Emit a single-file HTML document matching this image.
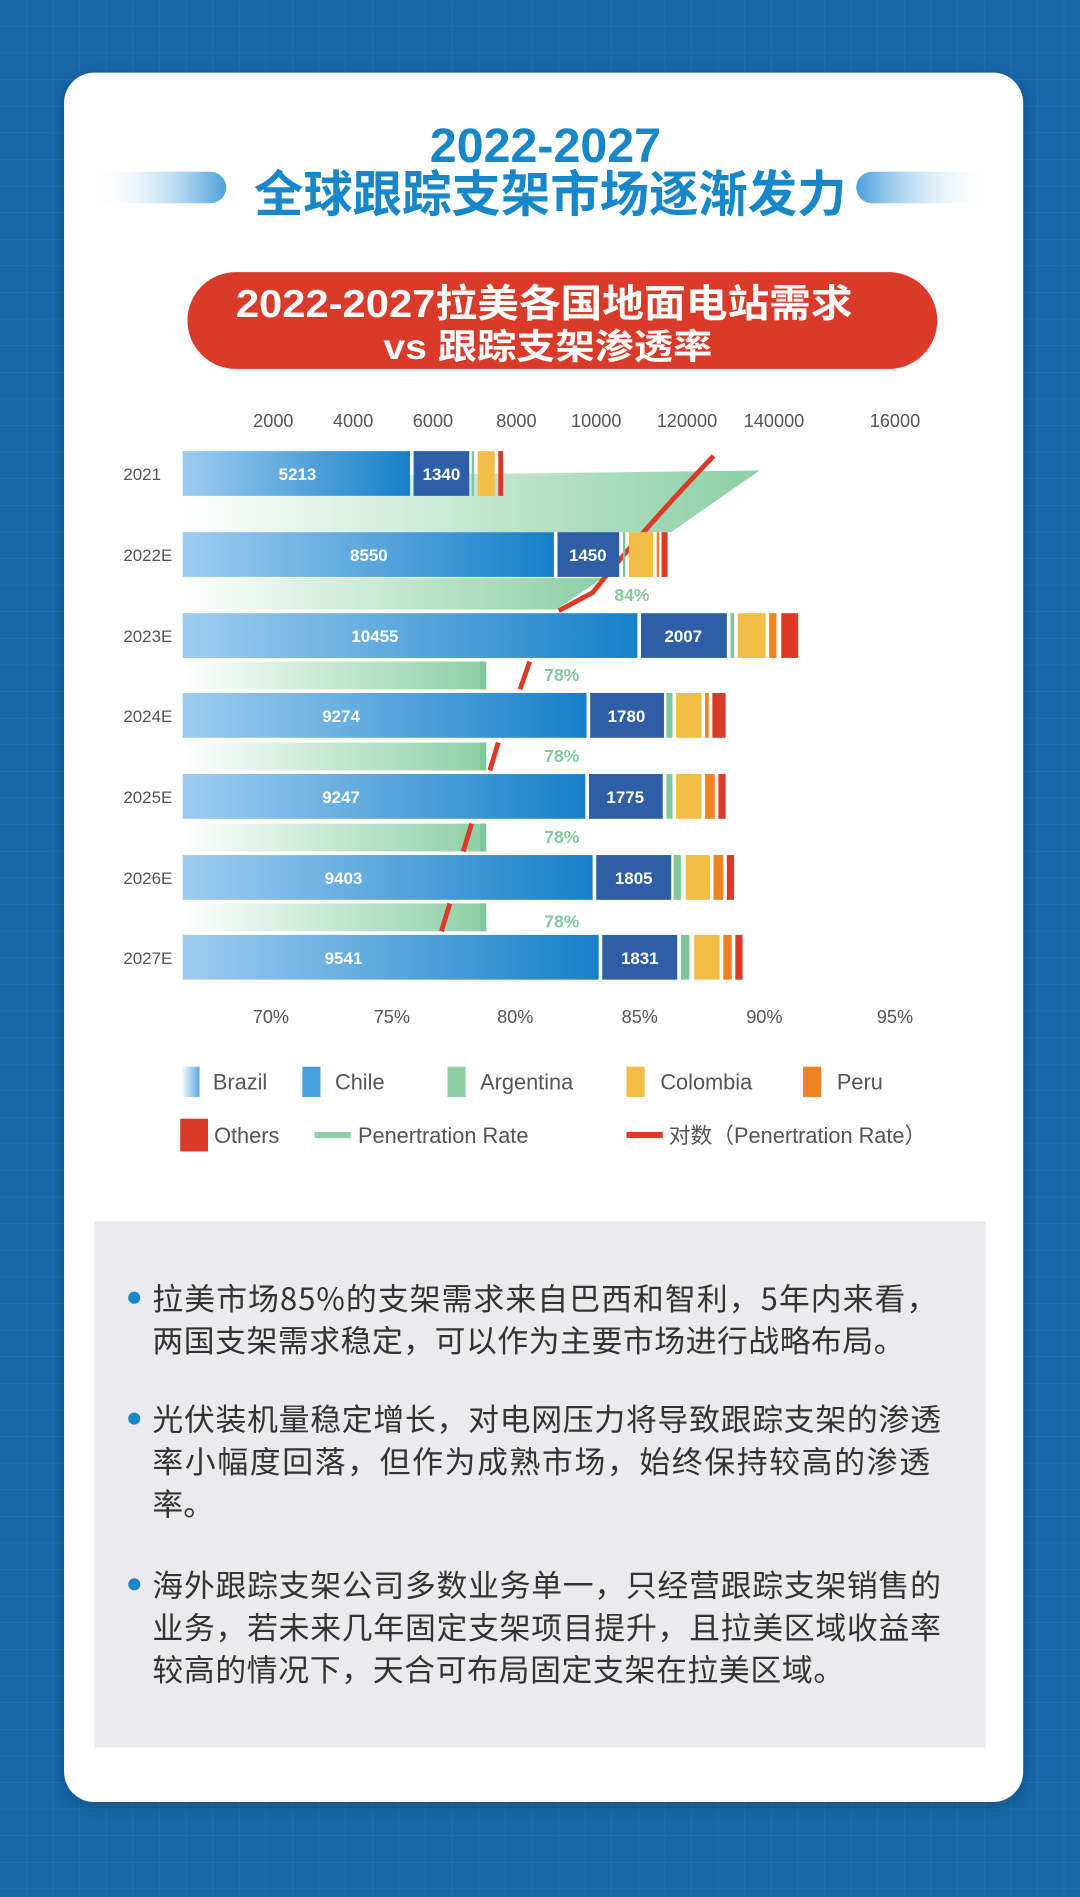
<!DOCTYPE html>
<html><head><meta charset="utf-8"><style>html,body{margin:0;padding:0;background:#1766a6}svg{display:block}</style></head><body>
<svg width="1080" height="1897" viewBox="0 0 893 1568.5" xmlns="http://www.w3.org/2000/svg" font-family="'Liberation Sans','Noto Sans CJK SC',sans-serif">
<defs>
<pattern id="grid" width="22" height="22" patternUnits="userSpaceOnUse"><path d="M22 0V22H0" fill="none" stroke="#3b82bb" stroke-width="0.8" opacity="0.6"/></pattern>
<linearGradient id="bz" x1="0" x2="1"><stop offset="0" stop-color="#9fcdf0"/><stop offset="1" stop-color="#1680c8"/></linearGradient>
<linearGradient id="gr" x1="0" x2="1"><stop offset="0" stop-color="#fff"/><stop offset="1" stop-color="#8ccfa5"/></linearGradient>
<linearGradient id="barL" x1="0" x2="1"><stop offset="0" stop-color="#fff" stop-opacity="0"/><stop offset="1" stop-color="#4aa0dc"/></linearGradient>
<linearGradient id="barR" x1="1" x2="0"><stop offset="0" stop-color="#fff" stop-opacity="0"/><stop offset="1" stop-color="#4aa0dc"/></linearGradient>
<linearGradient id="lgb" x1="0" x2="1"><stop offset="0" stop-color="#fff"/><stop offset="1" stop-color="#5aa8e0"/></linearGradient>
<filter id="sh"><feDropShadow dx="0" dy="3" stdDeviation="6" flood-color="#0a3a66" flood-opacity="0.5"/></filter>
</defs>
<rect width="893" height="1568.5" fill="#1766a6"/>
<rect width="893" height="1568.5" fill="url(#grid)"/>
<rect x="53" y="60" width="793" height="1430" rx="25" fill="#fff" filter="url(#sh)"/>
<rect x="75" y="142" width="112" height="26" rx="13" fill="url(#barL)"/>
<rect x="708" y="142" width="112" height="26" rx="13" fill="url(#barR)"/>
<text x="451" y="134" text-anchor="middle" font-size="40" font-weight="bold" fill="#1787c9">2022-2027</text>
<text x="210" y="175" textLength="490" lengthAdjust="spacingAndGlyphs" font-size="41" font-weight="bold" fill="#1787c9" font-family="'Noto Sans CJK SC',sans-serif">全球跟踪支架市场逐渐发力</text>
<rect x="155" y="225" width="620" height="80" rx="40" fill="#d93a29"/>
<text x="195" y="262" textLength="510" lengthAdjust="spacingAndGlyphs" font-size="32" font-weight="bold" fill="#fff">2022-2027拉美各国地面电站需求</text>
<text x="317" y="297" textLength="272" lengthAdjust="spacingAndGlyphs" font-size="29" font-weight="bold" fill="#fff">vs 跟踪支架渗透率</text>
<g font-size="15" fill="#555" text-anchor="middle">
<text x="226" y="353">2000</text><text x="292" y="353">4000</text><text x="358" y="353">6000</text><text x="427" y="353">8000</text><text x="493" y="353">10000</text><text x="568" y="353">120000</text><text x="640" y="353">140000</text><text x="740" y="353">16000</text>
<text x="224" y="846">70%</text><text x="324" y="846">75%</text><text x="426" y="846">80%</text><text x="529" y="846">85%</text><text x="632" y="846">90%</text><text x="740" y="846">95%</text>
</g>
<polygon points="151,395 628,389 555,440 151,440" fill="url(#gr)"/>
<polygon points="151,478 498,478 460,504 151,504" fill="url(#gr)"/>
<g fill="url(#gr)"><rect x="151" y="547" width="251" height="23"/><rect x="151" y="614" width="251" height="23"/><rect x="151" y="681" width="251" height="23"/><rect x="151" y="747" width="251" height="23"/></g>
<g fill="#7fc69a"><rect x="397" y="547" width="5" height="23"/><rect x="397" y="614" width="5" height="23"/><rect x="397" y="681" width="5" height="23"/><rect x="397" y="747" width="5" height="23"/></g>
<g stroke="#d93a29" stroke-width="4" fill="none">
<path d="M590,377 Q530,440 490,490 L462,505"/>
<line x1="438" y1="547" x2="430" y2="570"/><line x1="412" y1="614" x2="405" y2="637"/><line x1="390" y1="681" x2="383" y2="704"/><line x1="372" y1="747" x2="365" y2="770"/>
</g>
<g font-size="14.5" font-weight="bold" fill="#86c9a0"><text x="508" y="497">84%</text><text x="450" y="563">78%</text><text x="450" y="630">78%</text><text x="450" y="697">78%</text><text x="450" y="767">78%</text></g>
<g>
<g transform="translate(0,373)"><rect x="151" width="188" height="37" fill="url(#bz)"/><rect x="342" width="46" height="37" fill="#2d5ea6"/><rect x="390" width="2" height="37" fill="#7fc69a"/><rect x="395" width="14" height="37" fill="#f2bd44"/><rect x="412" width="4" height="37" fill="#d93a29"/></g>
<g transform="translate(0,440)"><rect x="151" width="307" height="37" fill="url(#bz)"/><rect x="461" width="51" height="37" fill="#2d5ea6"/><rect x="515" width="2" height="37" fill="#7fc69a"/><rect x="520" width="20" height="37" fill="#f2bd44"/><rect x="543" width="2" height="37" fill="#ee8324"/><rect x="547" width="5" height="37" fill="#d93a29"/></g>
<g transform="translate(0,507)"><rect x="151" width="376" height="37" fill="url(#bz)"/><rect x="530" width="71" height="37" fill="#2d5ea6"/><rect x="604" width="3" height="37" fill="#7fc69a"/><rect x="610" width="23" height="37" fill="#f2bd44"/><rect x="636" width="6" height="37" fill="#ee8324"/><rect x="646" width="14" height="37" fill="#d93a29"/></g>
<g transform="translate(0,573)"><rect x="151" width="334" height="37" fill="url(#bz)"/><rect x="488" width="61" height="37" fill="#2d5ea6"/><rect x="551" width="5" height="37" fill="#7fc69a"/><rect x="559" width="21" height="37" fill="#f2bd44"/><rect x="583" width="3" height="37" fill="#ee8324"/><rect x="589" width="11" height="37" fill="#d93a29"/></g>
<g transform="translate(0,640)"><rect x="151" width="333" height="37" fill="url(#bz)"/><rect x="487" width="61" height="37" fill="#2d5ea6"/><rect x="551" width="5" height="37" fill="#7fc69a"/><rect x="559" width="21" height="37" fill="#f2bd44"/><rect x="583" width="8" height="37" fill="#ee8324"/><rect x="594" width="6" height="37" fill="#d93a29"/></g>
<g transform="translate(0,707)"><rect x="151" width="339" height="37" fill="url(#bz)"/><rect x="493" width="62" height="37" fill="#2d5ea6"/><rect x="557" width="6" height="37" fill="#7fc69a"/><rect x="567" width="20" height="37" fill="#f2bd44"/><rect x="590" width="8" height="37" fill="#ee8324"/><rect x="601" width="6" height="37" fill="#d93a29"/></g>
<g transform="translate(0,773)"><rect x="151" width="344" height="37" fill="url(#bz)"/><rect x="498" width="62" height="37" fill="#2d5ea6"/><rect x="563" width="7" height="37" fill="#7fc69a"/><rect x="574" width="21" height="37" fill="#f2bd44"/><rect x="598" width="7" height="37" fill="#ee8324"/><rect x="608" width="6" height="37" fill="#d93a29"/></g>
</g>
<g font-size="14" font-weight="bold" fill="#fff" text-anchor="middle">
<text x="246" y="397">5213</text><text x="365" y="397">1340</text>
<text x="305" y="464">8550</text><text x="486" y="464">1450</text>
<text x="310" y="531">10455</text><text x="565" y="531">2007</text>
<text x="282" y="597">9274</text><text x="518" y="597">1780</text>
<text x="282" y="664">9247</text><text x="517" y="664">1775</text>
<text x="284" y="731">9403</text><text x="524" y="731">1805</text>
<text x="284" y="797">9541</text><text x="529" y="797">1831</text>
</g>
<g font-size="14" fill="#555"><text x="102" y="397">2021</text><text x="102" y="464">2022E</text><text x="102" y="531">2023E</text><text x="102" y="597">2024E</text><text x="102" y="664">2025E</text><text x="102" y="731">2026E</text><text x="102" y="797">2027E</text></g>
<rect x="150" y="882" width="15" height="25" fill="url(#lgb)"/><rect x="250" y="882" width="15" height="25" fill="#4aa0dc"/><rect x="370" y="882" width="15" height="25" fill="#8ccfa5"/><rect x="518" y="882" width="15" height="25" fill="#f2bd44"/><rect x="664" y="882" width="15" height="25" fill="#ee8324"/>
<rect x="149" y="925" width="23" height="27" fill="#d93a29"/><rect x="260" y="936" width="30" height="5" fill="#8ccfa5"/><rect x="518" y="936" width="30" height="5" fill="#d93a29"/>
<g font-size="18" fill="#555"><text x="176" y="901">Brazil</text><text x="277" y="901">Chile</text><text x="397" y="901">Argentina</text><text x="546" y="901">Colombia</text><text x="692" y="901">Peru</text>
<text x="177" y="945">Others</text><text x="296" y="945">Penertration Rate</text><text x="553" y="945">对数（Penertration Rate）</text></g>
<rect x="78" y="1010" width="737" height="435" fill="#ebebed"/>
<g fill="#1787c9"><circle cx="111" cy="1073" r="5"/><circle cx="111" cy="1173" r="5"/><circle cx="111" cy="1310" r="5"/></g>
<g font-size="25.5" fill="#333" font-family="'Noto Sans CJK SC',sans-serif" lengthAdjust="spacingAndGlyphs">
<text x="126" y="1083" textLength="649">拉美市场85%的支架需求来自巴西和智利，5年内来看，</text>
<text x="126" y="1118" textLength="622">两国支架需求稳定，可以作为主要市场进行战略布局。</text>
<text x="126" y="1183" textLength="652">光伏装机量稳定增长，对电网压力将导致跟踪支架的渗透</text>
<text x="126" y="1218" textLength="643">率小幅度回落，但作为成熟市场，始终保持较高的渗透</text>
<text x="126" y="1253">率。</text>
<text x="126" y="1320" textLength="652">海外跟踪支架公司多数业务单一，只经营跟踪支架销售的</text>
<text x="126" y="1355" textLength="652">业务，若未来几年固定支架项目提升，且拉美区域收益率</text>
<text x="126" y="1390" textLength="572">较高的情况下，天合可布局固定支架在拉美区域。</text>
</g>
</svg>
</body></html>
